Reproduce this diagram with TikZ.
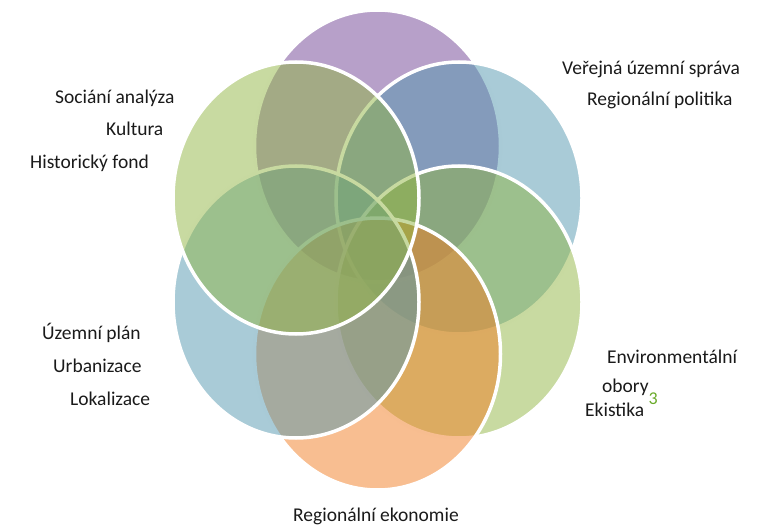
\documentclass[tikz,border=0pt]{standalone}
\usepackage{fontspec}
\setmainfont{Carlito}
\definecolor{cpurple}{RGB}{111,65,147}
\definecolor{cblue}{RGB}{83,151,175}
\definecolor{cgreen}{RGB}{145,181,67}
\definecolor{corange}{RGB}{241,125,35}
\definecolor{ctext}{RGB}{26,26,26}
\definecolor{cthree}{RGB}{106,170,42}
\tikzset{
  petal/.style={fill=#1, fill opacity=0.5, draw=white, draw opacity=1, line width=3.5pt},
  lbl/.style={anchor=base west, inner sep=0pt, text=ctext, font=\fontsize{19.5}{22}\selectfont}
}
\begin{document}
\begin{tikzpicture}[x=1pt,y=-1pt]
\useasboundingbox (0,0) rectangle (758,532);
% petals, drawn in stacking order
\path[petal=cpurple] (377.5,146) ellipse [x radius=123pt, y radius=136pt];
\path[petal=cblue]   (459,198) ellipse [x radius=123pt, y radius=136pt];
\path[petal=cgreen]  (459,302) ellipse [x radius=123pt, y radius=136pt];
\path[petal=corange] (377.5,354) ellipse [x radius=123pt, y radius=136pt];
\path[petal=cblue]   (296,302) ellipse [x radius=123pt, y radius=136pt];
\path[petal=cgreen]  (296,198) ellipse [x radius=123pt, y radius=136pt];
% labels
\node[lbl] (t1) at (55,104) {Sociání analýza};
\node[lbl] (t2) at (106,136) {Kultura};
\node[lbl] (t3) at (30,168) {Historický fond};
\node[lbl] (t4) at (562,75) {Veřejná územní správa};
\node[lbl] (t5) at (587,106) {Regionální politika};
\node[lbl] (t6) at (42,339) {Územní plán};
\node[lbl] (t7) at (53,372) {Urbanizace};
\node[lbl] (t8) at (70,405) {Lokalizace};
\node[lbl] (t9) at (607,363) {Environmentální};
\node[lbl] (t10) at (602,392) {obory};
\node[lbl, text=cthree, font=\fontsize{18}{20}\selectfont] (t11) at (648.5,404) {3};
\node[lbl] (t12) at (585,416) {Ekistika};
\node[lbl] (t13) at (293,521) {Regionální ekonomie};
\end{tikzpicture}
\end{document}
